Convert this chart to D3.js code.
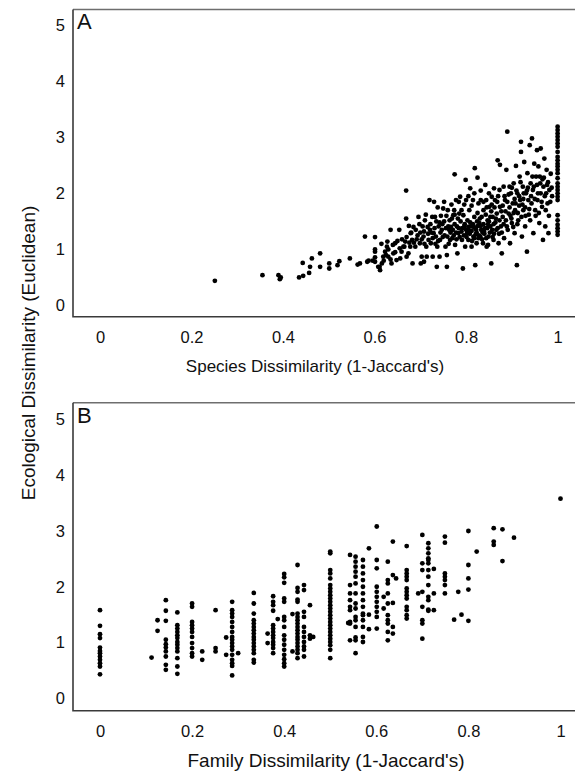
<!DOCTYPE html>
<html>
<head>
<meta charset="utf-8">
<script src="https://cdn.jsdelivr.net/npm/d3@7"></script>
<style>
  html, body { margin: 0; padding: 0; background: #fff; }
  svg { display: block; }
  text { font-family: "Liberation Sans", Arial, Helvetica, sans-serif; fill: #111; }
</style>
</head>
<body>
<svg id="chart" width="575" height="773"></svg>
<script>
// ---------------- DATA ----------------
const xTicks = [0, 0.2, 0.4, 0.6, 0.8, 1];
const xTickLabels = ["0", "0.2", "0.4", "0.6", "0.8", "1"];
const yTicks = [0, 1, 2, 3, 4, 5];
const yTickLabels = ["0", "1", "2", "3", "4", "5"];

const titleA = "Species Dissimilarity (1-Jaccard's)";
const titleB = "Family Dissimilarity (1-Jaccard's)";
const titleY = "Ecological Dissimilarity (Euclidean)";

// Panel A: [species dissimilarity, ecological dissimilarity]
const speciesPoints = [
  [0.251,0.44],[0.355,0.54],[0.390,0.54],[0.393,0.47],[0.395,0.50],[0.435,0.50],[0.444,0.53],
  [0.443,0.76],[0.457,0.58],[0.459,0.69],[0.463,0.84],[0.481,0.93],[0.481,0.69],[0.501,0.75],
  [0.501,0.66],[0.519,0.72],[0.523,0.79],[0.546,0.84],[0.563,0.73],[0.568,0.75],[0.579,1.23],
  [0.601,1.22],[0.601,1.00],[0.601,0.96],[0.601,0.86],[0.601,0.78],[0.584,0.78],[0.587,0.80],
  [0.596,0.80],[0.608,0.69],
  [0.611,0.69],[0.612,0.63],[0.616,0.75],[0.619,0.87],[0.623,0.96],[0.627,1.05],[0.628,1.14],
  [0.630,0.87],[0.635,1.35],[0.637,0.75],[0.641,0.93],[0.645,1.11],[0.648,0.81],[0.654,1.35],
  [0.656,0.84],[0.659,0.96],[0.663,1.05],[0.667,1.14],[0.669,1.55],[0.669,2.05],[0.670,0.87],
  [0.674,0.93],[0.678,1.05],[0.679,1.29],[0.682,1.17],[0.683,0.75],[0.689,1.05],[0.696,1.58],
  [0.699,1.11],[0.701,0.75],[0.703,0.87],[0.705,1.41],[0.707,1.23],[0.708,0.78],[0.710,1.52],
  [0.713,1.05],[0.714,0.87],[0.718,1.17],[0.720,1.88],[0.721,1.35],[0.723,1.11],[0.726,1.58],
  [0.727,0.87],[0.729,1.29],[0.730,1.85],[0.732,1.58],[0.734,1.23],[0.736,0.69],[0.737,1.05],
  [0.740,1.41],[0.742,0.87],[0.743,1.17],[0.747,1.35],[0.750,1.73],[0.752,1.50],[0.755,1.05],
  [0.758,0.69],[0.758,0.90],[0.759,1.23],[0.761,1.41],[0.764,1.52],[0.765,1.17],[0.769,1.55],
  [0.771,1.35],[0.772,1.61],[0.774,1.70],[0.775,2.34],[0.776,1.08],[0.778,1.88],[0.780,1.41],
  [0.781,0.93],[0.783,1.29],[0.785,1.64],[0.787,1.94],[0.788,1.50],[0.791,1.17],[0.793,0.66],
  [0.794,1.61],[0.796,1.41],[0.798,1.05],[0.799,2.24],[0.800,1.88],[0.802,1.29],[0.803,1.52],
  [0.805,1.17],[0.807,1.70],[0.809,2.09],[0.810,1.41],[0.812,1.05],[0.815,1.88],[0.816,1.23],
  [0.818,1.58],[0.819,2.45],[0.820,0.72],[0.822,1.35],[0.823,1.11],[0.825,2.28],[0.827,1.82],
  [0.829,1.47],[0.831,1.23],[0.832,1.88],[0.834,1.58],[0.837,1.11],[0.838,1.70],[0.839,1.32],
  [0.842,2.15],[0.844,1.88],[0.845,1.05],[0.847,1.52],[0.849,1.23],[0.851,1.76],[0.853,1.41],
  [0.855,0.75],[0.856,1.94],[0.858,1.58],[0.860,1.17],[0.861,2.09],[0.863,1.88],[0.866,1.35],
  [0.867,1.64],[0.869,2.59],[0.871,1.11],[0.873,2.06],[0.874,2.51],[0.874,1.76],[0.876,1.41],
  [0.878,0.93],[0.880,1.58],[0.882,2.12],[0.883,1.20],[0.885,1.88],[0.888,2.42],[0.889,1.41],
  [0.890,3.10],[0.893,1.64],[0.895,2.12],[0.896,1.11],[0.898,2.00],[0.900,1.47],[0.902,1.82],
  [0.904,2.18],[0.906,1.29],[0.907,1.70],[0.909,2.49],[0.911,0.72],[0.912,2.00],[0.914,1.52],
  [0.917,2.30],[0.918,1.88],[0.920,2.74],[0.920,2.92],[0.922,1.23],[0.924,2.12],[0.925,1.70],
  [0.927,2.56],[0.929,1.41],[0.931,2.00],[0.933,0.96],[0.934,2.36],[0.936,1.88],[0.939,2.86],
  [0.940,1.52],[0.941,2.18],[0.944,2.98],[0.946,2.06],[0.947,1.29],[0.949,2.53],[0.951,1.70],
  [0.953,2.30],[0.955,2.77],[0.956,1.88],[0.958,2.48],[0.960,1.47],[0.962,2.18],[0.963,2.80],
  [0.966,1.76],[0.968,1.17],[0.969,2.12],[0.971,2.62],[0.973,1.41],[0.975,2.00],[0.976,2.42],
  [0.978,1.82],[0.980,1.29],[0.982,2.06],
  [1,3.19],[1,3.13],[1,3.07],[1,3.01],[1,2.95],[1,2.89],[1,2.83],[1,2.74],[1,2.65],[1,2.59],
  [1,2.53],[1,2.48],[1,2.42],[1,2.36],[1,2.27],[1,2.18],[1,2.12],[1,2.06],[1,2.00],[1,1.94],
  [1,1.88],[1,1.61],[1,1.52],[1,1.44],[1,1.38],[1,1.32],[1,1.26],
  [0.790,1.32],[0.795,1.25],[0.800,1.35],[0.805,1.40],[0.808,1.28],[0.812,1.33],[0.815,1.45],
  [0.818,1.20],[0.820,1.38],[0.823,1.30],[0.826,1.42],[0.828,1.25],[0.830,1.55],[0.833,1.35],
  [0.835,1.18],[0.838,1.45],[0.840,1.28],[0.843,1.62],[0.846,1.38],[0.848,1.08],[0.850,1.50],
  [0.852,1.30],[0.855,1.68],[0.858,1.22],[0.860,1.45],[0.786,1.22],[0.782,1.55],[0.778,1.30],
  [0.775,1.45],[0.770,1.20],[0.766,1.30],[0.762,1.10],[0.757,1.60],[0.753,1.25],[0.748,1.45],
  [0.744,1.30],[0.739,1.15],[0.735,1.50],[0.731,1.38],[0.727,1.20],[0.722,1.45],[0.717,1.28],
  [0.712,1.62],[0.708,1.32],[0.703,1.18],[0.698,1.45],[0.694,1.25],[0.690,1.35],[0.686,1.12],
  [0.680,1.30],[0.675,1.42],[0.670,1.22],[0.665,1.05],[0.660,1.18],[0.655,1.02],[0.650,1.15],
  [0.645,0.95],[0.640,1.08],[0.635,0.82],[0.630,1.00],[0.625,0.90],[0.620,0.80],[0.615,1.10],
  [0.862,1.75],[0.865,1.55],[0.868,1.85],[0.870,1.95],[0.872,1.28],[0.877,1.68],[0.880,1.78],
  [0.884,1.95],[0.887,1.52],[0.890,1.85],[0.893,1.98],[0.897,1.60],[0.900,2.10],[0.903,1.40],
  [0.906,1.90],[0.910,2.05],[0.913,1.65],[0.916,1.95],[0.919,2.20],[0.923,1.80],[0.926,2.00],
  [0.930,1.60],[0.935,2.10],[0.938,1.72],[0.942,1.95],[0.945,2.30],[0.950,1.90],[0.955,2.15],
  [0.959,1.65],[0.963,2.00],[0.967,2.25],[0.972,1.95],[0.977,2.15],[0.981,1.60],[0.985,2.35],
  [0.988,1.95],
  [0.805,1.95],[0.812,1.78],[0.818,2.00],[0.825,1.65],[0.832,2.05],[0.838,1.85],[0.845,1.75],
  [0.850,2.00],[0.856,1.80],[0.796,1.80],[0.790,1.70],[0.784,1.85],[0.775,1.62],[0.768,1.80],
  [0.760,1.70],[0.752,1.85],[0.745,1.60],[0.738,1.75],
  [0.792,1.38],[0.797,1.45],[0.801,1.22],[0.806,1.33],[0.809,1.48],[0.813,1.15],[0.817,1.40],
  [0.821,1.27],[0.824,1.50],[0.827,1.20],[0.832,1.42],[0.836,1.30],[0.841,1.38],[0.844,1.20],
  [0.848,1.45],[0.853,1.58],[0.857,1.35],[0.861,1.28],[0.864,1.48],[0.869,1.38],[0.873,1.52],
  [0.878,1.30],[0.882,1.45],[0.886,1.68],[0.891,1.35],[0.895,1.75],[0.899,1.55],[0.904,1.65],
  [0.908,1.82],[0.912,1.45],[0.916,1.78],[0.921,1.58],[0.925,1.90],[0.929,1.75],[0.933,2.05],
  [0.937,1.62],[0.943,1.82],[0.948,2.12],[0.952,1.60],[0.957,2.00],[0.961,2.30],[0.965,1.85],
  [0.970,2.28],[0.974,1.70],[0.979,2.20],[0.984,1.85],[0.987,2.10],[0.784,1.38],[0.779,1.18],
  [0.773,1.25],[0.767,1.40],[0.763,1.35],[0.756,1.38],[0.749,1.22],[0.742,1.48],[0.733,1.10],
  [0.724,1.30],[0.716,1.40],[0.709,1.10],[0.700,1.30],[0.692,1.18],[0.685,1.40],[0.676,1.12]
];

// Panel B: columns of [family dissimilarity, [ecological dissimilarity values]]
const familyColumns = [
  [0,     [1.58,1.30,1.15,1.08,0.91,0.85,0.81,0.75,0.69,0.63,0.57,0.43]],
  [0.112, [0.73]],
  [0.125, [1.40,1.21]],
  [0.143, [1.76,1.57,1.39,1.05,0.97,0.91,0.84,0.75,0.60,0.51]],
  [0.168, [1.54,1.31,1.25,1.19,1.13,1.08,1.01,0.96,0.90,0.84,0.72,0.57,0.44]],
  [0.200, [1.70,1.64,1.37,1.31,1.25,1.19,1.10,0.99,0.90,0.81,0.75]],
  [0.222, [0.84,0.69]],
  [0.251, [1.58,0.90,0.84]],
  [0.274, [1.09,0.78]],
  [0.287, [1.73,1.58,1.52,1.46,1.37,1.28,1.19,1.10,1.05,0.99,0.93,0.87,0.78,0.69,0.63,0.58,0.41]],
  [0.300, [0.81]],
  [0.334, [1.89,1.70,1.52,1.40,1.34,1.28,1.22,1.16,1.10,1.05,0.99,0.93,0.87,0.81,0.69,0.64]],
  [0.364, [1.16,0.99]],
  [0.376, [1.83,1.73,1.67,1.57,1.31,1.25,1.19,1.13,1.08,1.01,0.96,0.90,0.81]],
  [0.386, [1.42]],
  [0.400, [2.23,2.17,2.07,1.79,1.73,1.46,1.40,1.28,1.13,1.05,0.96,0.87,0.78,0.70,0.63,0.57]],
  [0.418, [1.51,0.84]],
  [0.429, [2.39,1.98,1.91,1.77,1.73,1.52,1.46,1.40,1.34,1.28,1.22,1.16,1.10,1.05,0.99,0.93,0.87,0.81,0.72]],
  [0.443, [2.03,1.94,1.55,1.46,1.28,1.19,1.10,1.01,0.93,0.87,0.75]],
  [0.456, [1.67,1.13,1.07]],
  [0.463, [1.10]],
  [0.500, [2.63,2.60,2.30,2.24,2.15,2.03,1.97,1.91,1.85,1.79,1.73,1.67,1.61,1.55,1.49,1.43,1.37,1.31,1.25,1.19,1.13,1.07,1.01,0.95,0.87,0.72]],
  [0.539, [1.35]],
  [0.543, [2.57,2.03,1.88,1.76,1.64,1.58,1.37,1.34,1.04]],
  [0.555, [2.54,2.45,2.36,2.27,2.18,2.06,1.88,1.70,1.61,1.46,1.40,1.28,1.09,1.04,0.81]],
  [0.571, [2.48,2.36,2.24,2.12,2.00,1.88,1.76,1.64,1.52,1.49,1.40,1.28,1.10,1.01]],
  [0.584, [2.69,1.50,1.24]],
  [0.601, [3.08,2.48,2.33,2.00,1.91,1.82,1.73,1.64,1.55,1.46,1.25]],
  [0.616, [1.82,1.61]],
  [0.625, [2.45,2.12,2.06,1.88,1.70,1.49,1.40,1.34,1.19,1.04]],
  [0.636, [2.81,2.21,1.71,1.28,1.16]],
  [0.643, [2.15]],
  [0.666, [2.73,2.30,2.24,2.18,2.12,1.97,1.91,1.85,1.79,1.64,1.58,1.49,1.43]],
  [0.691, [1.88]],
  [0.700, [2.93,2.42,2.30,1.91,1.64,1.40,1.34,1.07]],
  [0.713, [2.78,2.69,2.60,2.51,2.48,2.42,2.30,2.18,2.03,1.82,1.76,1.59,1.57]],
  [0.725, [2.32,1.88,1.58]],
  [0.749, [2.90,2.79,2.24,2.18,2.12,2.03,1.88]],
  [0.769, [1.41]],
  [0.778, [1.91]],
  [0.785, [1.50]],
  [0.800, [3.00,2.39,2.15,1.95,1.39]],
  [0.818, [2.63]],
  [0.855, [3.05,2.81,2.75]],
  [0.874, [3.03,2.46]],
  [0.899, [2.88]],
  [1.000, [3.58]]
];

// ---------------- DRAW ----------------
const svg = d3.select("#chart");
const FONT = '"Liberation Sans", Arial, Helvetica, sans-serif';

const panels = [
  { label: "A", points: speciesPoints, title: titleA, titleSize: 17, titleX: 315, titleY: 372,
    x: d3.scaleLinear().domain([-0.059, 1.038]).range([73, 575]),
    y: d3.scaleLinear().domain([-0.2, 5.28]).range([316.7, 9.5]) },
  { label: "B", points: familyColumns.flatMap(([fx, ys]) => ys.map(v => [fx, v])),
    title: titleB, titleSize: 19, titleX: 326, titleY: 766.5,
    x: d3.scaleLinear().domain([-0.0586, 1.0315]).range([73, 575]),
    y: d3.scaleLinear().domain([-0.222, 5.30]).range([710.7, 402.7]) }
];

panels.forEach(p => {
  const g = svg.append("g");
  const [x0, x1] = p.x.range();
  const [yb, yt] = p.y.range();

  // frame: top (lighter), left, bottom
  g.append("line").attr("x1", x0).attr("x2", x1).attr("y1", yt).attr("y2", yt)
    .attr("stroke", "#6e6e6e").attr("stroke-width", 1.6);
  g.append("path")
    .attr("d", `M${x0},${yt}V${yb}H${x1}`)
    .attr("fill", "none")
    .attr("stroke", "#3a3a3a")
    .attr("stroke-width", 1.6);

  // x axis labels
  const xa = g.append("g").attr("transform", `translate(0,${yb})`)
    .call(d3.axisBottom(p.x).tickValues(xTicks).tickSize(0).tickPadding(15)
      .tickFormat((d, i) => xTickLabels[i]));
  xa.select(".domain").remove();
  xa.selectAll("text").style("font-family", FONT).style("font-size", "16.5px").attr("fill", "#111");

  // y axis labels
  const ya = g.append("g").attr("transform", `translate(${x0},0)`)
    .call(d3.axisLeft(p.y).tickValues(yTicks).tickSize(0).tickPadding(8)
      .tickFormat((d, i) => yTickLabels[i]));
  ya.select(".domain").remove();
  ya.selectAll("text").style("font-family", FONT).style("font-size", "16.5px").attr("fill", "#111");

  // points
  g.append("g").selectAll("circle").data(p.points).join("circle")
    .attr("cx", d => p.x(d[0]))
    .attr("cy", d => p.y(d[1]))
    .attr("r", 2.4)
    .attr("fill", "#000");

  // panel letter
  g.append("text").attr("x", x0 + 4).attr("y", yt + 19.8)
    .style("font-size", "22px").text(p.label);

  // x title
  g.append("text").attr("x", p.titleX).attr("y", p.titleY)
    .attr("text-anchor", "middle").style("font-size", p.titleSize + "px").text(p.title);
});

// shared y title
svg.append("text")
  .attr("transform", "translate(35,353) rotate(-90)")
  .attr("text-anchor", "middle")
  .style("font-size", "19px")
  .text(titleY);
</script>
</body>
</html>
